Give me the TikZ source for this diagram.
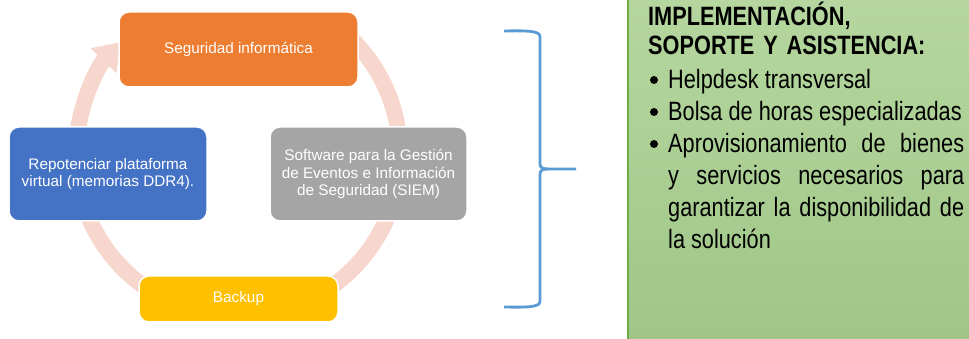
\documentclass[tikz,border=0pt]{standalone}
\usepackage{fontspec}
\setmainfont{Liberation Sans}
\newfontfamily\narrowsans{Liberation Sans}[FakeStretch=0.82]
\usepackage{xcolor}
\usetikzlibrary{arrows.meta,positioning}
\definecolor{segorange}{HTML}{ED7D31}
\definecolor{repblue}{HTML}{4472C4}
\definecolor{siemgray}{HTML}{A5A5A5}
\definecolor{backyellow}{HTML}{FFC000}
\definecolor{ringpink}{HTML}{F7D7CD}
\definecolor{braceblue}{HTML}{5B9BD5}
\definecolor{infogreen}{HTML}{A8D08E}
\definecolor{infoedge}{HTML}{70AD47}
\tikzset{
    every node/.style={font=\fontsize{15.3}{17.8}\selectfont},
    box/.style={rounded corners=10pt, draw=white, line width=1.5pt, text=white, align=center, inner sep=0pt},
    ring/.style={line width=16pt, draw=ringpink},
    headtext/.style={font=\narrowsans\bfseries\fontsize{26.5}{29}\selectfont, text width=310pt, align=left, inner sep=0pt, anchor=base west},
    itemtext/.style={font=\narrowsans\fontsize{26.5}{32}\selectfont, text width=296pt, align=justify, inner sep=0pt, anchor=base west},
    bulletdot/.style={circle, fill=black, inner sep=0pt, minimum size=8pt}
}

\begin{document}
\begin{tikzpicture}[x=1pt,y=1pt]
    \useasboundingbox (0,0) rectangle (969,339);

    % Draw the cycle ring behind the boxes
    \coordinate (ctr) at (238,184.5);
    \draw[ring] (ctr) ++(48:162) arc[start angle=48, end angle=8, radius=162];
    \draw[ring] (ctr) ++(-22:162) arc[start angle=-22, end angle=-66, radius=162];
    \draw[ring] (ctr) ++(-114:162) arc[start angle=-114, end angle=-158, radius=162];
    \draw[ring, -{Triangle[length=26pt, width=34pt]}] (ctr) ++(172:162) arc[start angle=172, end angle=136, radius=162];

    % Draw the four boxes
    \node[box, fill=segorange, minimum width=239pt, minimum height=75pt] (seg) at (238.5,289.5) {Seguridad informática};
    \node[box, fill=repblue, minimum width=198pt, minimum height=94pt] (rep) at (108,165) {Repotenciar plataforma\\virtual (memorias DDR4).};
    \node[box, fill=siemgray, minimum width=197pt, minimum height=94pt] (siem) at (368.5,165) {Software para la Gestión\\de Eventos e Información\\de Seguridad (SIEM)};
    \node[box, fill=backyellow, minimum width=199pt, minimum height=46pt] (back) at (238.5,40) {Backup};

    % Draw the brace
    \draw[braceblue, line width=2.8pt]
        (504,308) .. controls (530,308.5) and (540,308) .. (540,302) -- (540,175)
        .. controls (540,171) and (543,170) .. (548,170) -- (576,170);
    \draw[braceblue, line width=2.8pt]
        (548,170) .. controls (543,170) and (540,169) .. (540,165) -- (540,38)
        .. controls (540,32) and (530,31.5) .. (504,32);

    % Green panel with the text
    \shade[top color=infogreen!85!white, bottom color=infogreen!95!black] (627,0) rectangle (969,339);
    \draw[infoedge, line width=2.5pt] (628,0) -- (628,339);
    \node[headtext] (head) at (648,313) {IMPLEMENTACIÓN,\\SOPORTE Y ASISTENCIA:};
    \node[itemtext] (item1) at (668,250) {Helpdesk transversal};
    \node[itemtext] (item2) at (668,218) {Bolsa de horas especializadas};
    \node[itemtext] (item3) at (668,186) {Aprovisionamiento de bienes\linebreak y servicios necesarios para\linebreak garantizar la disponibilidad de\linebreak la solución};

    % Bullets
    \foreach \y [count=\i] in {250,218,186}
        \node[bulletdot] (dot\i) at (654,\y+9) {};
\end{tikzpicture}
\end{document}
